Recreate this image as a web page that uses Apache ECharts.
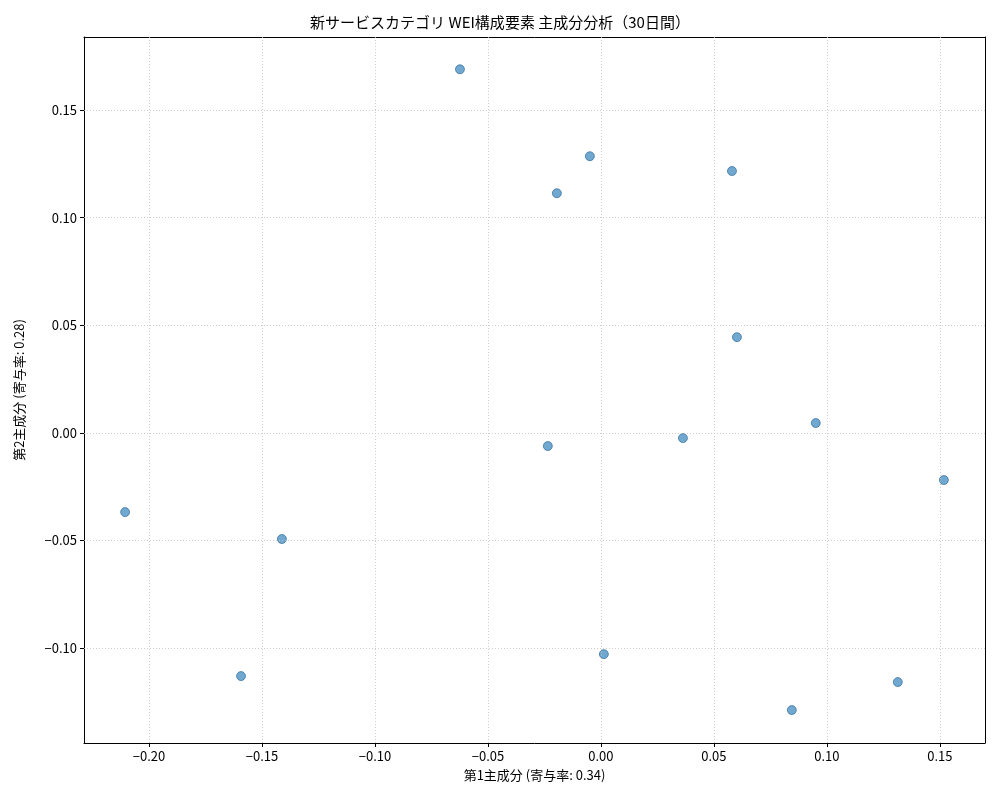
<!DOCTYPE html>
<html><head><meta charset="utf-8">
<script src="https://cdn.jsdelivr.net/npm/echarts@6/dist/echarts.min.js"></script>
<style>html,body{margin:0;padding:0;background:#fff}#c{width:1000px;height:800px}</style>
</head><body><div id="c"></div>
<script>
const pc1 = [-0.0624,-0.0049,-0.0195,0.0580,0.0602,-0.0235,0.0363,0.0951,0.1518,-0.2106,-0.1412,-0.1593,0.0013,0.0845,0.1314];
const pc2 = [0.1690,0.1286,0.1114,0.1217,0.0445,-0.0061,-0.0024,0.0046,-0.0219,-0.0368,-0.0493,-0.1130,-0.1028,-0.1288,-0.1158];
const xTicks = [-0.20,-0.15,-0.10,-0.05,0.00,0.05,0.10,0.15];
const yTicks = [-0.10,-0.05,0.00,0.05,0.10,0.15];
const F = '"Noto Sans CJK JP", sans-serif';
const fmt = v => v.toFixed(2).replace('-', '−');
const XMIN=-0.2288, XMAX=0.170, YMIN=-0.1441, YMAX=0.184;
const chart = echarts.init(document.getElementById('c'));
const lab = {formatter:fmt,fontFamily:F,fontSize:13,color:'#000',margin:7};
const frame = {type:'value',axisLine:{show:true,onZero:false,lineStyle:{color:'#000'}},axisTick:{show:false},axisLabel:{show:false},splitLine:{show:false}};
chart.setOption({
  animation:false,
  title:{text:'新サービスカテゴリ WEI構成要素 主成分分析（30日間）',left:'center',top:10,
    textStyle:{fontFamily:F,fontSize:15,fontWeight:'normal',color:'#000'}},
  grid:{left:84,right:15,top:37,bottom:57,containLabel:false},
  xAxis:[{type:'value',min:XMIN,max:XMAX,name:'第1主成分 (寄与率: 0.34)',nameLocation:'middle',nameGap:26,
    nameTextStyle:{fontFamily:F,fontSize:13,color:'#000'},
    axisLine:{onZero:false,lineStyle:{color:'#000'}},splitLine:{show:false},
    axisTick:{show:true,length:4,lineStyle:{color:'#000'},customValues:xTicks},
    axisLabel:Object.assign({customValues:xTicks},lab)},
    Object.assign({position:'top',min:XMIN,max:XMAX},frame)],
  yAxis:[{type:'value',min:YMIN,max:YMAX,name:'第2主成分 (寄与率: 0.28)',nameLocation:'middle',nameGap:58,
    nameTextStyle:{fontFamily:F,fontSize:13,color:'#000'},
    axisLine:{onZero:false,lineStyle:{color:'#000'}},splitLine:{show:false},
    axisTick:{show:true,length:4,lineStyle:{color:'#000'},customValues:yTicks},
    axisLabel:Object.assign({customValues:yTicks},lab)},
    Object.assign({position:'right',min:YMIN,max:YMAX},frame)],
  series:[
    {type:'scatter',symbolSize:9,data:pc1.map((x,i)=>[x,pc2[i]]),
     itemStyle:{color:'rgba(31,119,180,0.8)',borderColor:'rgba(25,85,140,0.9)',borderWidth:0.8},
     markLine:{silent:true,symbol:'none',label:{show:false},animation:false,
       lineStyle:{type:[1,2],color:'#c0c0c0',width:0.8},
       data:xTicks.map(v=>({xAxis:v})).concat(yTicks.map(v=>({yAxis:v})))}}
  ]
});
</script></body></html>
